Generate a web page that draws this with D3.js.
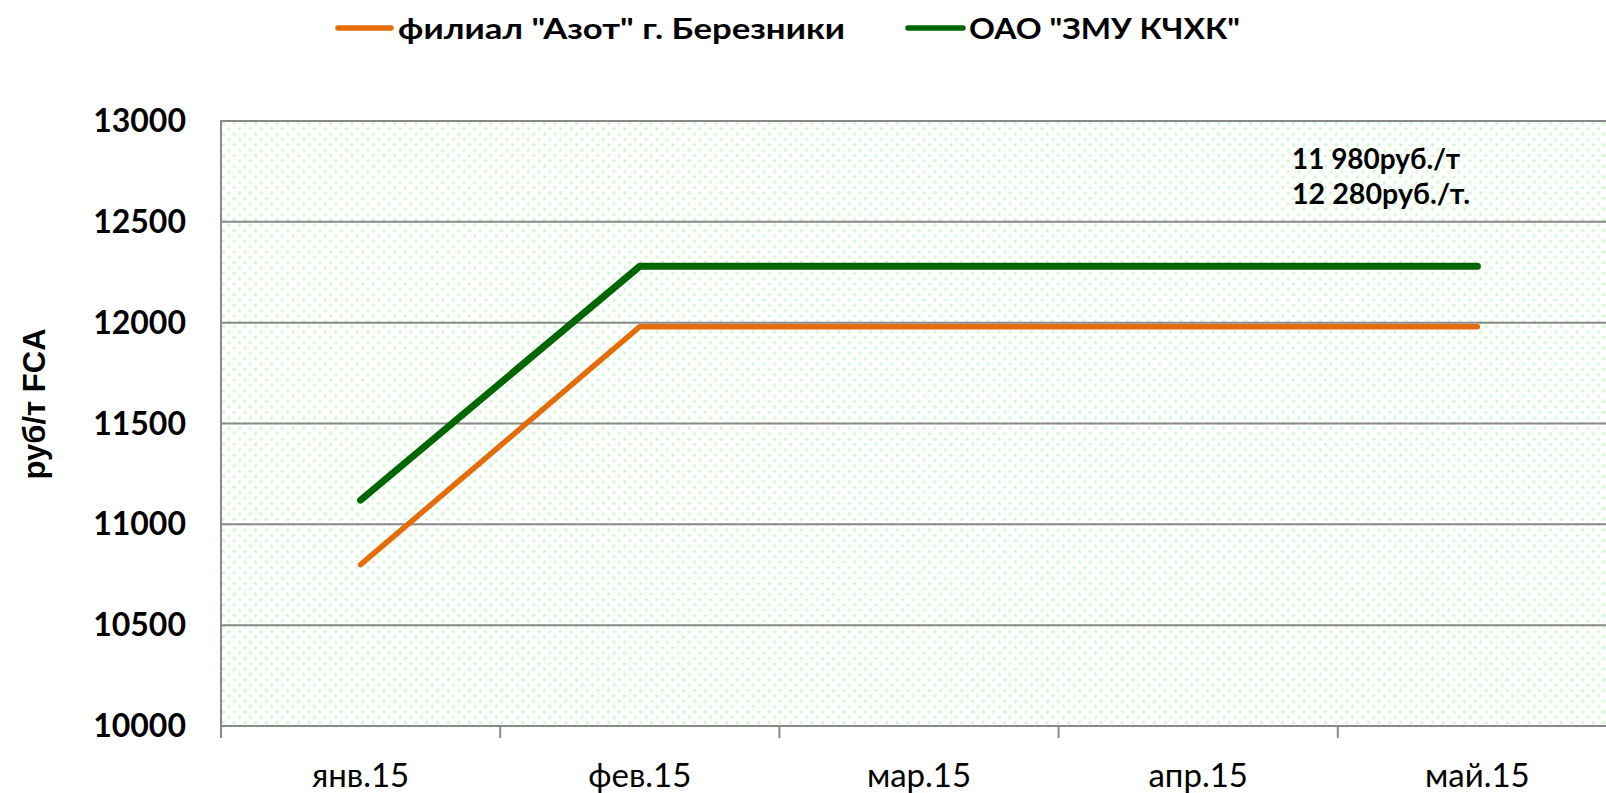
<!DOCTYPE html>
<html>
<head>
<meta charset="utf-8">
<script src="https://cdn.jsdelivr.net/npm/d3@7"></script>
<style>
  html, body { margin: 0; padding: 0; background: #fff; }
  svg { display: block; overflow: hidden; }
</style>
</head>
<body>
<svg id="chart" width="1606" height="793"></svg>
<script>
const categories = ["янв.15", "фев.15", "мар.15", "апр.15", "май.15"];
const azotValues = [10800, 11980, 11980, 11980, 11980];
const zmuValues = [11120, 12280, 12280, 12280, 12280];
const yTicks = [10000, 10500, 11000, 11500, 12000, 12500, 13000];
const seriesNames = ["филиал \"Азот\" г. Березники", "ОАО \"ЗМУ КЧХК\""];
const seriesColors = ["#E46C0A", "#006600"];
const annotations = ["11 980руб./т", "12 280руб./т."];
const yTitle = "руб/т FCA";

const W = 1606, H = 793;
const plot = { left: 221, top: 121, bottom: 726, right: 1617 };

const svg = d3.select("#chart");
const defs = svg.append("defs");
const pat = defs.append("pattern")
  .attr("id", "dots").attr("patternUnits", "userSpaceOnUse")
  .attr("width", 10.7).attr("height", 10.7)
  .attr("x", plot.left).attr("y", plot.top);
pat.append("rect").attr("width", 10.7).attr("height", 10.7).attr("fill", "#fff");
pat.append("circle").attr("cx", 2.5).attr("cy", 2.5).attr("r", 1.7).attr("fill", "#d2f7d2");
pat.append("circle").attr("cx", 7.85).attr("cy", 7.85).attr("r", 1.7).attr("fill", "#d2f7d2");

const x = d3.scaleBand().domain(categories).range([plot.left, plot.right]).padding(0);
const y = d3.scaleLinear().domain([10000, 13000]).range([plot.bottom, plot.top]);

// background
svg.append("rect")
  .attr("x", plot.left).attr("y", plot.top)
  .attr("width", plot.right - plot.left).attr("height", plot.bottom - plot.top)
  .attr("fill", "url(#dots)");

// gridlines
const gridColor = "#898989";
svg.append("g").selectAll("line").data(yTicks).join("line")
  .attr("x1", plot.left).attr("x2", plot.right)
  .attr("y1", d => y(d)).attr("y2", d => y(d))
  .attr("stroke", gridColor).attr("stroke-width", 2);

// y axis line
svg.append("line")
  .attr("x1", plot.left).attr("x2", plot.left)
  .attr("y1", plot.top - 1).attr("y2", plot.bottom)
  .attr("stroke", gridColor).attr("stroke-width", 2);

// x axis ticks at category boundaries
const bounds = categories.map(c => x(c)).concat([x(categories[categories.length - 1]) + x.bandwidth()]);
svg.append("g").selectAll("line").data(bounds).join("line")
  .attr("x1", d => d).attr("x2", d => d)
  .attr("y1", plot.bottom).attr("y2", plot.bottom + 12)
  .attr("stroke", gridColor).attr("stroke-width", 2);

// y tick labels
svg.append("g").selectAll("text").data(yTicks).join("text")
  .attr("x", 186).attr("y", d => y(d) + 11)
  .attr("text-anchor", "end")
  .attr("font-family", "Lato, sans-serif").attr("font-weight", "bold")
  .attr("font-size", 32).attr("fill", "#000")
  .text(d => d);

// x tick labels
svg.append("g").selectAll("text").data(categories).join("text")
  .attr("x", d => x(d) + x.bandwidth() / 2).attr("y", 787)
  .attr("text-anchor", "middle")
  .attr("font-family", "Lato, sans-serif")
  .attr("font-size", 33).attr("fill", "#000")
  .text(d => d);

// y title
svg.append("text")
  .attr("transform", "translate(45,404) rotate(-90)")
  .attr("text-anchor", "middle")
  .attr("font-family", "'Liberation Sans', Arial, sans-serif").attr("font-weight", "bold")
  .attr("font-size", 31).attr("fill", "#000")
  .text(yTitle);

// lines
const line = d3.line()
  .x((d, i) => x(categories[i]) + x.bandwidth() / 2)
  .y(d => y(d));
const series = [azotValues, zmuValues];
const widths = [5.5, 7];
series.forEach((vals, i) => {
  svg.append("path").datum(vals)
    .attr("d", line)
    .attr("fill", "none")
    .attr("stroke", seriesColors[i])
    .attr("stroke-width", widths[i])
    .attr("stroke-linecap", "round")
    .attr("stroke-linejoin", "round");
});

// legend
const legendItems = [
  { lx1: 338, lx2: 391, tx: 398, tw: 447 },
  { lx1: 908, lx2: 963, tx: 969, tw: 271 }
];
legendItems.forEach((it, i) => {
  svg.append("line")
    .attr("x1", it.lx1).attr("x2", it.lx2).attr("y1", 28).attr("y2", 28)
    .attr("stroke", seriesColors[i]).attr("stroke-width", 5.5)
    .attr("stroke-linecap", "round");
  svg.append("text")
    .attr("x", it.tx).attr("y", 39)
    .attr("font-family", "Lato, sans-serif").attr("font-weight", "bold")
    .attr("font-size", 29).attr("fill", "#000")
    .attr("textLength", it.tw).attr("lengthAdjust", "spacingAndGlyphs")
    .text(seriesNames[i]);
});

// annotations
const annPos = [{ x: 1292, y: 169, w: 168 }, { x: 1292, y: 204, w: 178 }];
annotations.forEach((t, i) => {
  svg.append("text")
    .attr("x", annPos[i].x).attr("y", annPos[i].y)
    .attr("font-family", "Lato, sans-serif").attr("font-weight", "bold")
    .attr("font-size", 28).attr("fill", "#000")
    .attr("textLength", annPos[i].w).attr("lengthAdjust", "spacingAndGlyphs")
    .text(t);
});
</script>
</body>
</html>
